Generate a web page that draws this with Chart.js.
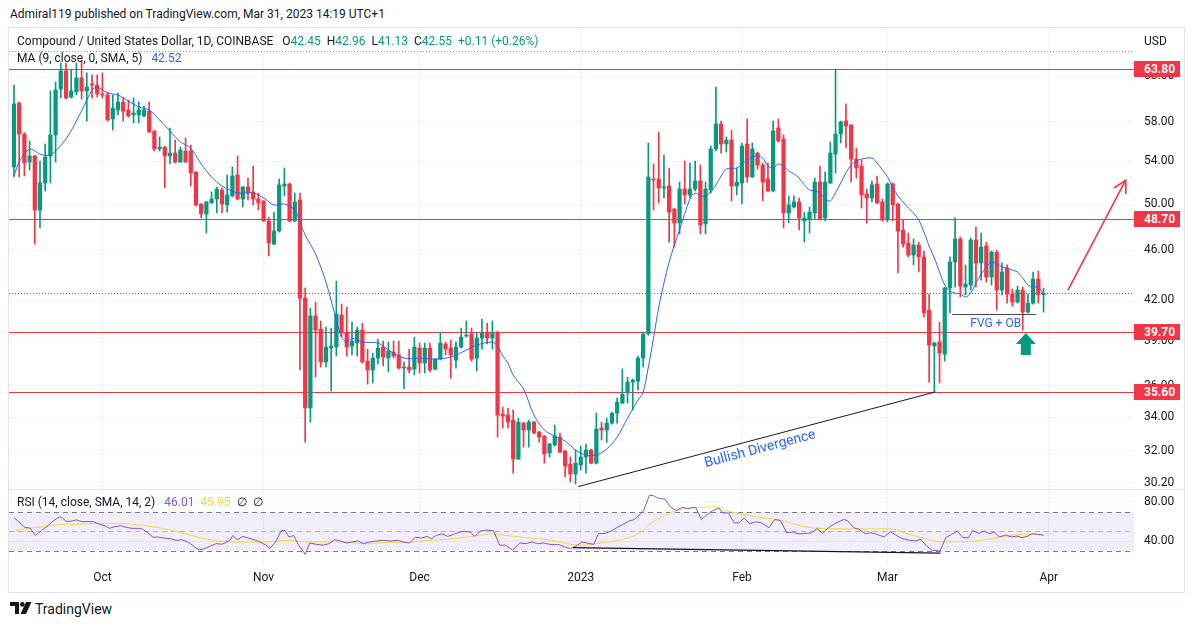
<!DOCTYPE html>
<html>
<head>
<meta charset="utf-8">
<title>Compound / USD 1D</title>
<script src="https://cdn.jsdelivr.net/npm/chart.js@4.4.1/dist/chart.umd.min.js"></script>
<style>
  body { margin: 0; background: #fff; width: 1194px; height: 627px; position: relative; overflow: hidden;
         font-family: Roboto, "Noto Sans", sans-serif; color: #131722; }
  .abs { position: absolute; white-space: nowrap; }
  #title { left: 10px; top: 6px; font-size: 12px; line-height: 16px; }
  #frame { left: 8px; top: 27px; width: 1175px; height: 564px; border: 1px solid #e0e3eb; }
  #sep { left: 9px; top: 489px; width: 1174px; height: 1px; background: #e0e3eb; z-index: 3; }
  canvas { position: absolute; }
  #priceChart { left: 9px; top: 28px; }
  #rsiChart { left: 9px; top: 490px; }
  .legend { font-size: 12px; line-height: 16px; z-index: 5; }
  .legend span { margin-left: 6px; }
  .legend b { font-weight: normal; }
  .up { color: #089981; }
  #legend1 { left: 17px; top: 33px; }
  #legend2 { left: 17px; top: 50px; }
  #legendRsi { left: 17px; top: 494px; }
  #usd { left: 1144px; top: 33px; font-size: 12px; line-height: 16px; z-index: 5; }
  #logo { left: 10px; top: 602px; }
  #brand { left: 35px; top: 600px; font-size: 14px; line-height: 18px; }
</style>
</head>
<body>
<div id="title" class="abs">Admiral119 published on TradingView.com, Mar 31, 2023 14:19 UTC+1</div>
<div id="frame" class="abs"></div>
<canvas id="priceChart" width="1174" height="461"></canvas>
<canvas id="rsiChart" width="1174" height="101"></canvas>
<div id="sep" class="abs"></div>
<div id="legend1" class="abs legend"></div>
<div id="legend2" class="abs legend"></div>
<div id="legendRsi" class="abs legend"></div>
<div id="usd" class="abs">USD</div>
<svg id="logo" class="abs" width="22" height="12" viewBox="0 0 22 12">
  <path d="M0 0H9V12H5V4H0Z" fill="#131722"/>
  <circle cx="12.3" cy="2.4" r="2.3" fill="#131722"/>
  <path d="M16 0H21.5L16 12H10.5Z" fill="#131722"/>
</svg>
<div id="brand" class="abs">TradingView</div>

<script>
// daily candles, 14 Sep 2022 .. 31 Mar 2023 (index 0 = 14 Sep)
const opens = [53.47,60.02,56.75,53.95,54.54,49.46,51.94,54.54,56.65,61.56,63.61,60.68,61.23,62.80,61.34,62.12,62.01,61.01,60.90,58.32,
  59.27,60.13,59.27,58.74,58.74,58.63,59.16,57.06,55.23,55.43,54.54,54.83,53.95,55.03,55.03,52.99,50.00,49.11,50.10,50.46,
  51.29,49.92,50.74,52.70,50.46,51.57,51.11,50.46,50.28,48.49,46.51,47.62,51.66,51.85,48.49,50.37,42.18,34.58,40.84,39.88,
  37.58,38.54,38.61,40.91,39.67,38.68,38.89,39.81,37.64,37.04,37.85,38.61,37.85,38.26,38.06,37.17,37.24,37.10,38.54,37.51,
  38.54,37.10,37.78,38.82,38.54,37.71,38.61,39.38,39.53,37.85,39.24,39.60,39.24,39.60,34.20,34.14,33.83,31.53,33.65,33.23,
  33.71,33.11,32.87,31.88,32.34,32.81,31.99,31.25,30.69,31.19,31.65,32.05,31.30,33.35,33.23,33.65,34.26,34.89,35.53,36.24,
  36.30,37.85,39.53,52.32,52.32,51.48,51.66,49.55,48.32,51.38,50.83,51.38,52.13,48.23,51.29,55.23,57.79,55.74,56.14,51.66,
  51.94,55.74,52.51,54.83,53.66,52.32,51.20,57.37,56.24,49.20,49.73,50.19,48.49,48.67,49.20,52.03,48.76,51.94,54.73,56.75,
  58.10,57.69,54.24,53.56,50.92,50.55,51.85,50.19,48.67,51.85,50.01,47.71,46.60,45.60,46.43,45.44,41.28,38.68,38.96,38.12,
  42.96,45.03,46.94,43.03,43.19,46.85,44.95,46.35,43.82,45.85,42.80,44.54,42.49,41.88,42.80,41.13,41.80,43.66,42.45];
const highs = [62.01,60.13,56.90,56.04,54.60,54.04,55.74,61.34,62.35,64.53,64.53,63.72,64.53,64.88,63.38,63.15,63.15,63.38,61.23,60.90,
  61.12,60.57,60.35,60.57,60.13,59.70,60.13,57.10,56.45,55.50,57.37,56.14,55.43,56.35,55.64,53.00,50.05,50.25,51.11,51.57,
  51.48,52.70,53.47,54.54,51.60,52.41,53.56,51.01,50.30,48.84,49.28,52.32,53.37,51.94,51.01,51.01,42.96,41.43,41.88,40.47,
  40.03,39.96,43.50,41.73,41.50,40.39,40.03,40.32,38.47,38.19,39.17,39.03,38.96,39.03,39.03,37.58,38.47,39.31,38.89,38.89,
  38.89,37.80,39.67,38.96,39.10,38.96,39.96,40.47,39.96,39.60,40.61,40.32,40.47,39.74,34.64,34.58,34.45,33.95,33.71,33.83,
  33.75,33.15,32.90,32.45,33.53,33.05,32.05,31.65,32.05,32.28,32.40,32.10,34.26,33.71,33.95,34.33,35.21,37.11,36.57,36.44,
  37.99,39.67,55.84,53.76,56.96,54.64,53.37,49.64,52.03,54.04,53.85,54.04,53.66,52.03,55.53,61.78,58.10,56.45,57.16,53.37,
  55.84,58.32,55.84,54.93,53.85,53.85,58.10,58.32,56.65,50.74,50.74,50.55,49.28,49.73,52.41,53.56,52.99,55.94,63.80,58.10,
  59.92,57.70,55.33,54.14,51.38,52.13,52.60,50.46,51.94,51.94,50.05,48.58,47.45,46.94,46.68,45.93,42.49,38.96,40.39,43.00,
  45.44,48.76,47.11,44.79,47.02,47.97,47.45,46.68,45.93,46.01,44.95,44.79,42.88,43.11,43.03,42.49,44.22,44.30,42.96];
const lows = [52.51,52.51,52.60,53.18,46.51,47.88,51.20,51.94,53.95,60.57,60.46,60.57,60.90,60.46,58.10,60.57,60.68,60.57,58.10,57.16,
  58.74,58.10,58.53,57.90,57.90,58.53,56.90,55.03,55.03,51.48,53.76,53.85,53.90,53.90,51.66,49.82,48.76,47.45,50.05,49.20,
  49.20,49.28,50.65,50.37,49.73,50.37,49.92,49.46,48.45,45.52,46.45,47.53,50.74,48.41,48.45,37.04,32.51,33.71,36.57,37.24,
  37.24,35.66,37.99,39.31,37.99,38.06,37.99,37.51,36.11,36.18,37.44,37.31,36.91,37.85,37.10,35.79,36.84,36.71,36.84,36.84,
  36.91,37.04,37.71,38.06,36.50,37.17,38.54,39.31,37.64,36.97,38.47,38.82,38.47,32.81,33.35,33.35,30.74,31.50,32.22,32.22,
  33.00,32.51,31.30,31.65,32.28,31.90,30.53,30.25,30.14,30.91,30.74,31.25,31.25,32.63,32.50,33.59,33.65,34.85,34.89,34.45,
  35.72,37.24,39.45,49.46,50.10,50.55,46.68,46.26,47.37,50.01,50.55,51.20,47.37,47.37,51.01,55.03,54.83,54.93,50.28,50.83,
  50.01,52.03,52.45,53.27,50.28,51.11,51.11,55.94,47.88,48.32,49.64,47.71,46.68,47.45,48.67,48.58,48.49,51.90,52.89,55.84,
  55.33,52.03,52.41,49.64,48.32,50.19,50.05,48.49,48.41,48.49,44.14,46.26,45.44,44.79,44.22,40.76,36.24,35.60,36.18,37.64,
  41.06,43.03,42.26,42.42,42.80,43.03,43.58,43.42,43.19,41.28,42.42,41.80,41.58,41.80,39.81,41.06,41.73,41.80,41.13];
const closes = [59.92,56.75,53.85,54.54,49.46,51.94,54.44,56.65,61.45,63.61,60.57,61.34,62.80,61.34,61.78,62.01,61.01,60.90,58.21,59.46,
  60.13,59.16,58.63,58.95,59.27,59.27,56.96,55.23,55.43,54.54,54.83,53.95,55.13,53.95,52.89,49.92,49.11,50.19,50.46,51.38,
  50.01,50.83,52.60,50.46,51.57,51.01,50.46,50.10,48.49,46.60,47.62,51.76,51.85,48.49,50.19,42.18,34.58,40.84,39.81,37.58,
  38.61,38.68,40.98,39.67,38.61,39.03,39.81,37.58,37.04,37.85,38.54,37.92,38.33,37.99,37.17,37.24,37.04,38.61,37.51,38.54,
  37.04,37.78,38.89,38.47,38.06,38.61,39.31,39.45,37.78,39.24,39.60,39.24,39.60,34.14,34.08,33.71,31.53,33.71,33.23,33.71,
  33.05,32.81,31.82,32.40,32.87,31.93,31.13,30.69,31.30,31.65,32.05,31.30,33.29,33.23,33.65,34.26,34.95,35.46,36.24,36.37,
  37.85,39.53,52.51,52.22,51.48,51.57,49.28,48.32,51.38,50.83,51.38,52.13,48.14,51.38,55.23,57.79,55.74,56.14,51.66,52.03,
  55.53,52.51,55.23,53.66,52.03,51.20,57.06,56.04,49.20,49.92,50.19,48.76,48.76,49.28,52.03,48.67,52.03,54.83,56.75,58.00,
  57.58,54.24,53.37,50.83,50.55,51.76,50.10,48.58,51.85,49.92,47.62,46.51,45.60,46.43,45.44,41.06,38.75,38.89,38.19,42.96,
  45.03,46.94,43.11,43.27,46.85,44.95,46.26,43.82,45.85,42.80,44.22,42.49,41.88,42.80,41.13,41.80,43.66,42.44,42.55];

// MA (9, close, 0, SMA, 5)
const maDays = [0,1,3,5,7,10,13,15,16,18,20,22,24,26,28,30,32,34,36,38,40,43,46,48,50,52,54,55,56,58,60,62,63,64,65,67,70,72,75,78,
  81,84,87,89,92,93,94,95,96,98,100,102,104,106,108,110,112,114,116,118,120,121,122,123,124,125,126,127,128,130,131,132,133,134,135,136,137,139,140,142,
  143,144,145,146,147,148,149,150,151,152,153,154,155,156,157,158,159,160,161,162,163,165,166,167,168,169,170,171,172,173,174,175,176,177,178,179,180,181,182,183,
  184,185,186,187,188,189,190,191,192,193,194,195,196,197,198];
const maValues = [52.6,53.95,55.23,54.73,54.64,56.24,59.16,61.45,61.78,61.12,60.90,60.24,59.59,59.27,58.21,57.06,55.94,55.33,53.76,52.51,51.66,51.01,51.01,50.55,49.92,50.01,49.46,48.41,47.28,45.68,43.42,40.54,39.31,38.96,39.24,38.96,38.89,38.40,37.85,37.85,
  37.78,37.92,38.40,38.75,38.96,38.68,37.99,37.51,36.71,35.79,34.14,33.23,32.87,32.57,32.05,31.76,31.76,32.11,32.81,33.95,35.08,35.59,37.24,39.24,41.50,43.34,45.03,46.43,47.71,50.46,51.01,50.74,50.74,51.11,51.76,52.60,53.27,53.37,53.76,54.44,
  54.54,54.34,53.56,53.37,53.76,53.56,53.08,52.80,52.41,51.76,51.29,51.20,51.01,50.46,50.28,51.01,51.94,52.89,53.66,54.04,54.24,54.34,53.85,53.18,52.51,51.57,50.74,50.19,49.64,49.20,48.58,47.54,46.35,45.36,44.22,43.19,42.72,42.57,42.49,42.26,
  42.57,43.34,44.06,44.62,45.03,44.87,44.62,44.54,44.38,44.22,43.74,43.19,43.03,43.03,42.52];

const rsiDays = [0,2.1,3.1,4.1,5.3,6.5,7.6,8.7,9.2,10.2,11.3,12,13.1,14.2,15.3,16.4,17.5,18.3,19.4,20.5,21.6,22.7,23.8,24.7,25.6,26.7,27.8,28.9,30.1,31.2,
  32.3,33.4,34.5,35.6,36.7,37.8,38.9,40,40.7,41.5,42.1,42.9,44,45.1,46.2,47.3,48.5,49.2,50.3,51.4,52.1,52.9,53.8,54.7,56,56.9,58,59.5,60.6,61.7,
  62.8,63.9,65,66.1,67.2,68.3,69.8,70.9,72.4,73.8,74.9,76.1,77.2,78.3,79.4,80.3,81.2,82.3,83.4,84.5,85.6,86.7,87.8,88.6,89.7,90.8,92.2,93.4,94.5,95.9,
  97.3,98.5,99.6,100.7,101.8,103.3,104.8,105.9,107,108.1,109.2,110.8,111.5,112.4,113.7,114.8,115.9,117.1,118.2,119.3,120.4,121.1,122.2,123,124.1,125.2,126.3,127.4,128.5,129.6,
  131.1,132.2,133.3,134.4,135.6,136.3,137.4,138.5,139.5,140.4,141.5,142.6,143.7,145.2,146.3,147.4,148.6,149.7,150.8,151.9,153.4,154.5,155.5,156.6,158.1,159.6,160.3,161.5,162.5,163.7,
  164.8,165.9,167.4,168.5,169.6,170.7,172.2,173.3,174.4,175.5,176.6,178.1,179.2,180.3,181.4,182.5,183.6,184.4,185.5,186.6,187.7,188.5,189.5,190.7,191.8,192.9,193.9,195,195.8,196.9,198];
const rsiValues = [64.0,54.0,53.3,45.7,50.7,55.7,60.7,64.7,64.0,59.7,60.7,61.7,59.7,60.0,59.7,57.3,55.7,53.0,54.7,55.7,54.0,53.0,53.0,52.3,49.0,44.0,44.0,43.0,42.3,40.7,
  41.3,39.0,35.0,30.7,32.3,35.0,37.3,36.7,38.3,40.7,45.7,41.3,44.7,43.0,41.3,39.0,35.7,32.3,39.0,50.7,50.7,44.0,45.7,36.3,26.3,38.0,36.7,35.7,37.3,41.3,
  40.0,38.0,39.0,40.0,37.3,39.0,40.0,40.7,40.0,40.7,39.0,38.0,44.0,43.0,44.7,42.3,45.7,47.3,44.7,46.7,49.0,50.0,49.0,44.7,50.0,51.3,50.7,35.7,35.7,30.7,
  38.0,37.3,39.0,37.3,38.0,36.3,36.3,34.0,32.3,34.7,39.0,37.3,36.6,47.5,47.8,50.2,53.6,57.0,60.3,62.0,67.1,71.2,86.8,86.4,83.4,83.1,74.6,71.2,74.6,73.2,
  74.6,62.0,67.1,71.2,73.9,68.8,68.8,58.6,58.6,63.7,57.6,59.7,58.6,53.6,62.0,61.0,48.5,49.2,47.5,47.5,48.5,52.9,47.5,53.6,58.6,62.0,61.0,53.6,51.9,47.5,
  48.5,46.8,44.1,49.5,46.1,42.7,40.7,40.0,41.7,34.9,30.5,29.8,43.4,46.8,50.2,43.4,43.4,50.8,47.8,50.2,47.5,49.5,44.1,46.1,44.1,45.1,43.4,45.1,47.5,46.8,46.01];
const rsiMaDays = [0,1.7,4.7,8.3,12,16.4,20.1,23.8,26.7,30.4,34.1,37.8,41.5,45.1,48.8,52.5,56.2,59.9,63.5,67.2,70.9,74.6,78.3,81.9,85.6,89.3,92.2,94.5,98.9,103.3,
  106.2,109.2,111,114.5,118.2,120.4,122.6,124.8,127,130,133,135.2,137.4,140.4,144.1,147.8,151.5,155.1,158.9,162.5,166.2,169.2,172.2,175.1,178.1,181,184.7,188.5,192.2,195.8,198];
const rsiMaValues = [49.7,52.3,54.0,56.7,57.3,58.0,58.0,56.7,54.7,50.7,45.7,41.3,39.0,39.0,39.0,40.7,39.0,39.0,39.0,37.3,38.3,38.3,40.0,41.3,43.0,45.7,47.3,45.7,43.3,40.7,
  37.3,35.7,36.6,39.3,43.4,48.5,58.6,65.4,70.5,73.9,74.6,74.6,70.5,67.1,63.7,61.0,55.3,52.9,52.5,52.5,52.5,51.9,46.8,42.7,39.3,39.3,40.0,42.7,46.1,46.8,45.95];

// axes
const priceTicks = [30.2, 32, 34, 36, 39, 42, 46, 50, 54, 58, 63];
const rsiTicks = [40, 80];
const monthDays = [17, 48, 78, 109, 140, 168, 199];
const monthLabels = ['Oct', 'Nov', 'Dec', '2023', 'Feb', 'Mar', 'Apr'];

// drawings on the chart (day index, price / rsi)
const levels = [63.80, 48.70, 39.70, 35.60];
const topDotted = 65.9;
const priceDivergence = [[108.5, 30.0], [177.2, 35.6]];
const rsiDivergence = [[107.5, 33.2], [178.2, 27.6]];
const targetArrow = [[202.7, 42.8], [213.8, 52.2]];
const fvgLine = [[180.4, 41.0], [196.5, 41.0]];
const fvgLabel = [188.8, 40.25];
const buyArrow = [194.6, 39.6];
const divergenceLabel = [143.5, 32.1];

const GREEN = '#089981', RED = '#f23645', BLUE = '#2962ff', PURPLE = '#7e57c2', YELLOW = '#f5d63d', GRID = '#f0f3fa', TEXT = '#131722';
const FONT = 'Roboto, "Noto Sans", sans-serif';

Chart.defaults.font.family = FONT;
Chart.defaults.color = TEXT;

// legends
const n = closes.length;
const chg = closes[n - 1] - closes[n - 2];
document.getElementById('legend1').innerHTML =
  'Compound / United States Dollar, 1D, COINBASE ' +
  '<span>O<b class="up">' + opens[n - 1].toFixed(2) + '</b></span>' +
  '<span>H<b class="up">' + highs[n - 1].toFixed(2) + '</b></span>' +
  '<span>L<b class="up">' + lows[n - 1].toFixed(2) + '</b></span>' +
  '<span>C<b class="up">' + closes[n - 1].toFixed(2) + '</b></span>' +
  '<span class="up">+' + chg.toFixed(2) + ' (+' + (chg / closes[n - 2] * 100).toFixed(2) + '%)</span>';
document.getElementById('legend2').innerHTML =
  'MA (9, close, 0, SMA, 5) <span style="color:' + BLUE + '">' + maValues[maValues.length - 1].toFixed(2) + '</span>';
document.getElementById('legendRsi').innerHTML =
  'RSI (14, close, SMA, 14, 2) <span style="color:' + PURPLE + '">' + rsiValues[rsiValues.length - 1].toFixed(2) + '</span>' +
  '<span style="color:' + YELLOW + '">' + rsiMaValues[rsiMaValues.length - 1].toFixed(2) + '</span>' +
  '<span>∅</span><span>∅</span>';

const days = opens.map((_, i) => i);
const candleColors = days.map(i => closes[i] >= opens[i] ? GREEN : RED);
const bodyData = days.map(i => ({ x: i, y: [Math.min(opens[i], closes[i]), Math.max(opens[i], closes[i])] }));
const wickData = days.map(i => ({ x: i, y: [lows[i], highs[i]] }));

const X_MIN = -0.96, X_MAX = 215.4;

function hline(ctx, x1, x2, y) {
  ctx.beginPath(); ctx.moveTo(x1, y); ctx.lineTo(x2, y); ctx.stroke();
}

const priceDrawings = {
  id: 'priceDrawings',
  beforeDatasetsDraw(chart) {
    const { ctx, chartArea: a, scales: { y } } = chart;
    ctx.save();
    ctx.lineWidth = 1;
    ctx.strokeStyle = RED;
    levels.forEach(v => hline(ctx, a.left, a.right, Math.round(y.getPixelForValue(v)) + 0.5));
    ctx.setLineDash([1, 2]);
    ctx.strokeStyle = '#9598a1';
    hline(ctx, a.left, a.right, Math.round(y.getPixelForValue(topDotted)) + 0.5);
    ctx.strokeStyle = GREEN;
    hline(ctx, a.left, a.right, Math.round(y.getPixelForValue(closes[n - 1])) + 0.5);
    ctx.restore();
  },
  afterDatasetsDraw(chart) {
    const { ctx, scales: { x, y } } = chart;
    const px = p => [x.getPixelForValue(p[0]), y.getPixelForValue(p[1])];
    ctx.save();
    // bullish divergence line and label
    const [d1, d2] = priceDivergence.map(px);
    ctx.strokeStyle = TEXT; ctx.lineWidth = 1;
    ctx.beginPath(); ctx.moveTo(...d1); ctx.lineTo(...d2); ctx.stroke();
    const ang = Math.atan2(d2[1] - d1[1], d2[0] - d1[0]);
    const lp = px(divergenceLabel);
    ctx.translate(lp[0], lp[1]); ctx.rotate(ang);
    ctx.fillStyle = BLUE; ctx.font = '14px ' + FONT; ctx.textAlign = 'center'; ctx.textBaseline = 'middle';
    ctx.fillText('Bullish Divergence', 0, 0);
    ctx.restore();

    ctx.save();
    // FVG + OB line and label
    const [f1, f2] = fvgLine.map(px);
    ctx.strokeStyle = '#4a4a4a'; ctx.lineWidth = 1;
    hline(ctx, f1[0], f2[0], Math.round(f1[1]) + 0.5);
    const fl = px(fvgLabel);
    ctx.fillStyle = BLUE; ctx.font = '12px ' + FONT; ctx.textAlign = 'center'; ctx.textBaseline = 'middle';
    ctx.fillText('FVG + OB', fl[0], fl[1]);
    // green buy arrow
    const b = px(buyArrow);
    ctx.fillStyle = GREEN;
    ctx.beginPath();
    ctx.moveTo(b[0], b[1]);
    ctx.lineTo(b[0] + 10, b[1] + 11); ctx.lineTo(b[0] + 5, b[1] + 11); ctx.lineTo(b[0] + 5, b[1] + 22);
    ctx.lineTo(b[0] - 5, b[1] + 22); ctx.lineTo(b[0] - 5, b[1] + 11); ctx.lineTo(b[0] - 10, b[1] + 11);
    ctx.closePath(); ctx.fill();
    // red target arrow
    const [t1, t2] = targetArrow.map(px);
    ctx.strokeStyle = RED; ctx.lineWidth = 1.6;
    ctx.beginPath(); ctx.moveTo(...t1); ctx.lineTo(...t2); ctx.stroke();
    const ta = Math.atan2(t2[1] - t1[1], t2[0] - t1[0]);
    ctx.beginPath();
    ctx.moveTo(t2[0] - 14 * Math.cos(ta - 0.5), t2[1] - 14 * Math.sin(ta - 0.5));
    ctx.lineTo(t2[0], t2[1]);
    ctx.lineTo(t2[0] - 14 * Math.cos(ta + 0.5), t2[1] - 14 * Math.sin(ta + 0.5));
    ctx.stroke();
    ctx.restore();
  },
  afterDraw(chart) {
    const { ctx, chartArea: a, scales: { y } } = chart;
    ctx.save();
    ctx.font = 'bold 12px ' + FONT; ctx.textBaseline = 'middle'; ctx.textAlign = 'left';
    levels.forEach(v => {
      const py = Math.round(y.getPixelForValue(v));
      ctx.fillStyle = RED;
      ctx.fillRect(a.right, py - 8, 46, 16);
      ctx.fillStyle = '#fff';
      ctx.fillText(v.toFixed(2), a.right + 10, py + 0.5);
    });
    ctx.restore();
  }
};

new Chart(document.getElementById('priceChart'), {
  type: 'bar',
  data: {
    datasets: [
      { type: 'line', data: maDays.map((d, i) => ({ x: d, y: maValues[i] })), borderColor: BLUE, borderWidth: 1,
        pointRadius: 0, tension: 0.3, order: 0 },
      { data: bodyData, backgroundColor: candleColors, barThickness: 3.6, grouped: false, minBarLength: 1, order: 1 },
      { data: wickData, backgroundColor: candleColors, barThickness: 1, grouped: false, order: 2 }
    ]
  },
  options: {
    responsive: false, animation: false, events: [],
    layout: { padding: 0 },
    plugins: { legend: { display: false }, tooltip: { enabled: false } },
    scales: {
      x: {
        type: 'linear', min: X_MIN, max: X_MAX, bounds: 'data', offset: false,
        afterBuildTicks: s => { s.ticks = monthDays.map(v => ({ value: v })); },
        afterFit: s => { s.height = 0; s.paddingLeft = 0; s.paddingRight = 0; },
        ticks: { display: false },
        grid: { color: GRID, drawTicks: false, offset: false },
        border: { display: false }
      },
      y: {
        type: 'logarithmic', position: 'right', min: 29.87, max: 68.74, bounds: 'data',
        afterBuildTicks: s => { s.ticks = priceTicks.map(v => ({ value: v })); },
        afterFit: s => { s.width = 49; s.paddingTop = 0; s.paddingBottom = 0; },
        ticks: { callback: v => Number(v).toFixed(2), color: TEXT, font: { size: 12 }, padding: 10 },
        grid: { color: GRID, drawTicks: false },
        border: { display: false }
      }
    }
  },
  plugins: [priceDrawings]
});

const rsiDrawings = {
  id: 'rsiDrawings',
  beforeDatasetsDraw(chart) {
    const { ctx, chartArea: a, scales: { y } } = chart;
    const y70 = y.getPixelForValue(70), y30 = y.getPixelForValue(30), y50 = y.getPixelForValue(50);
    ctx.save();
    ctx.fillStyle = 'rgba(126, 87, 194, 0.1)';
    ctx.fillRect(a.left, y70, a.right - a.left, y30 - y70);
    ctx.lineWidth = 1;
    ctx.setLineDash([5, 4]);
    ctx.strokeStyle = '#787b86';
    hline(ctx, a.left, a.right, Math.round(y70) + 0.5);
    hline(ctx, a.left, a.right, Math.round(y30) + 0.5);
    ctx.strokeStyle = 'rgba(120, 123, 134, 0.5)';
    hline(ctx, a.left, a.right, Math.round(y50) + 0.5);
    ctx.restore();
  },
  afterDatasetsDraw(chart) {
    const { ctx, scales: { x, y } } = chart;
    const [p1, p2] = rsiDivergence.map(p => [x.getPixelForValue(p[0]), y.getPixelForValue(p[1])]);
    ctx.save();
    ctx.strokeStyle = TEXT; ctx.lineWidth = 1.2;
    ctx.beginPath(); ctx.moveTo(...p1); ctx.lineTo(...p2); ctx.stroke();
    ctx.restore();
  }
};

new Chart(document.getElementById('rsiChart'), {
  type: 'line',
  data: {
    datasets: [
      { data: rsiDays.map((d, i) => ({ x: d, y: rsiValues[i] })), borderColor: PURPLE, borderWidth: 1, pointRadius: 0, tension: 0 },
      { data: rsiMaDays.map((d, i) => ({ x: d, y: rsiMaValues[i] })), borderColor: YELLOW, borderWidth: 1, pointRadius: 0, tension: 0.4 }
    ]
  },
  options: {
    responsive: false, animation: false, events: [],
    layout: { padding: 0 },
    plugins: { legend: { display: false }, tooltip: { enabled: false } },
    scales: {
      x: {
        type: 'linear', min: X_MIN, max: X_MAX, bounds: 'data', offset: false,
        afterBuildTicks: s => { s.ticks = monthDays.map(v => ({ value: v })); },
        afterFit: s => { s.height = 26; s.paddingLeft = 0; s.paddingRight = 0; },
        ticks: { callback: v => monthLabels[monthDays.indexOf(v)], autoSkip: false, maxRotation: 0, padding: 6,
                 color: TEXT, font: { size: 12 } },
        grid: { color: GRID, drawTicks: false },
        border: { display: false }
      },
      y: {
        type: 'linear', position: 'right', min: 15.4, max: 92.3, bounds: 'data',
        afterBuildTicks: s => { s.ticks = rsiTicks.map(v => ({ value: v })); },
        afterFit: s => { s.width = 49; s.paddingTop = 0; s.paddingBottom = 0; },
        ticks: { callback: v => Number(v).toFixed(2), color: TEXT, font: { size: 12 }, padding: 10 },
        grid: { color: GRID, drawTicks: false },
        border: { display: false }
      }
    }
  },
  plugins: [rsiDrawings]
});
</script>
</body>
</html>
